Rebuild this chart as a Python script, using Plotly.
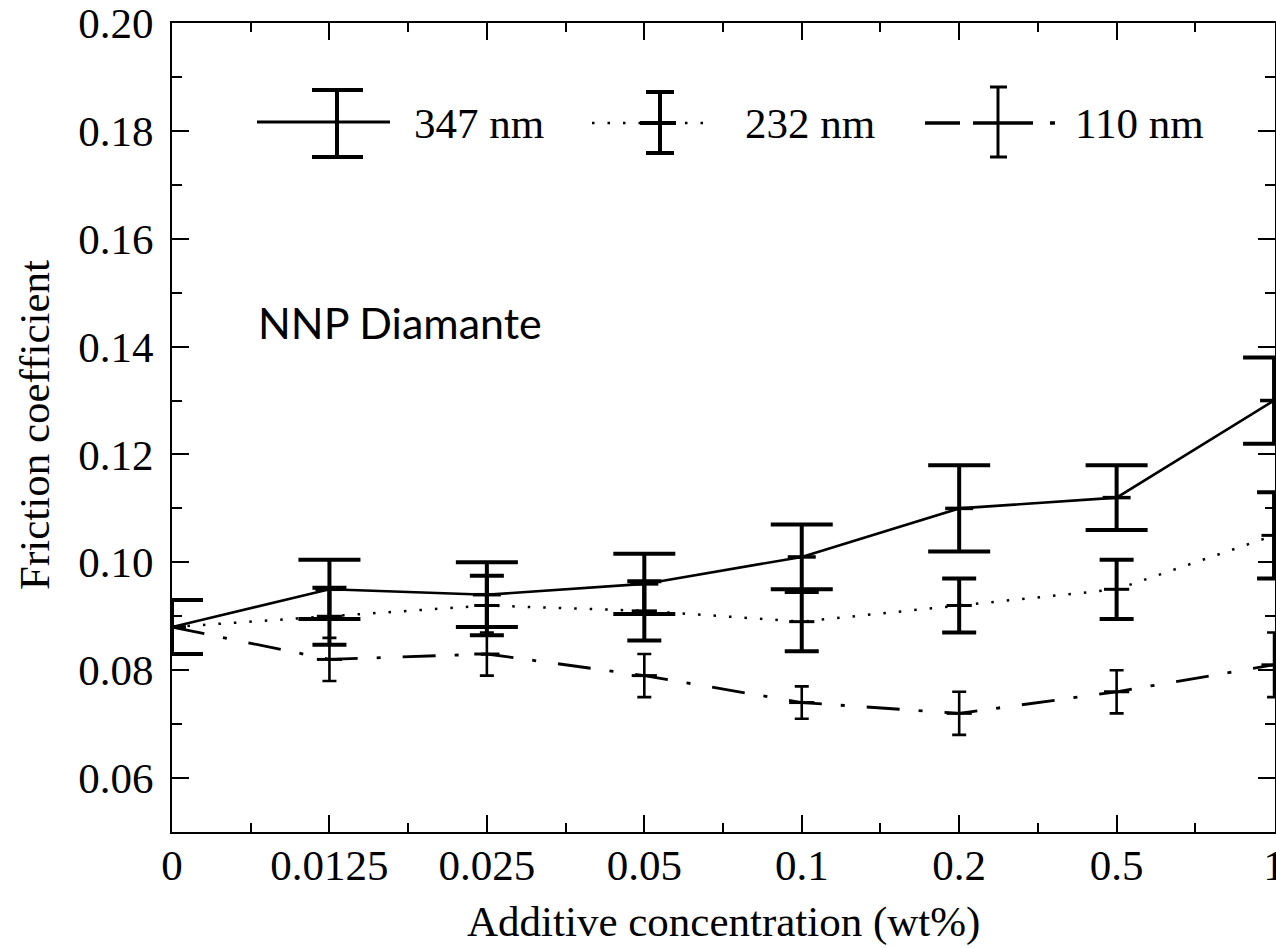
import plotly.graph_objects as go

# ---------------- data ----------------
conc_labels = ["0", "0.0125", "0.025", "0.05", "0.1", "0.2", "0.5", "1"]
conc_pos = [0, 1, 2, 3, 4, 5, 6, 7]

f347 = [0.088, 0.095, 0.094, 0.096, 0.101, 0.110, 0.112, 0.130]
e347 = [0.005, 0.0055, 0.006, 0.0056, 0.006, 0.008, 0.006, 0.008]

f232 = [0.088, 0.090, 0.092, 0.091, 0.089, 0.092, 0.095, 0.105]
e232 = [0.005, 0.0053, 0.0055, 0.0055, 0.0055, 0.005, 0.0055, 0.008]

f110 = [0.088, 0.082, 0.083, 0.079, 0.074, 0.072, 0.076, 0.081]
e110 = [0.005, 0.004, 0.004, 0.004, 0.003, 0.004, 0.004, 0.006]

series_names = ["347 nm", "232 nm", "110 nm"]

# ---------------- layout constants ----------------
W, H = 1276, 948
L, R, T, B = 172, 1, 23, 116
PW = W - L - R
PH = H - T - B
SERIF = "Liberation Serif, Times New Roman, serif"
FS = 43


def px_x(p):
    return (p - L) / PW


def px_y(p):
    return (H - B - p) / PH


fig = go.Figure()

fig.add_trace(go.Scatter(
    x=conc_pos, y=f110, mode="lines+markers", name=series_names[2],
    line=dict(color="black", width=2.8, dash="33px,19px,4px,22px"),
    marker=dict(symbol="line-ew", size=18, line=dict(color="black", width=3)),
    error_y=dict(type="data", array=e110, color="black", thickness=2.6, width=7),
))
fig.add_trace(go.Scatter(
    x=conc_pos, y=f232, mode="lines+markers", name=series_names[1],
    line=dict(color="black", width=2.5, dash="2.5px,13px"),
    marker=dict(symbol="line-ew", size=18, line=dict(color="black", width=3)),
    error_y=dict(type="data", array=e232, color="black", thickness=4, width=17),
))
fig.add_trace(go.Scatter(
    x=conc_pos, y=f347, mode="lines+markers", name=series_names[0],
    line=dict(color="black", width=2.6),
    marker=dict(symbol="line-ew", size=20, line=dict(color="black", width=3.5)),
    error_y=dict(type="data", array=e347, color="black", thickness=4, width=31),
))

# ---------------- custom legend (layout decorations) ----------------
shapes = []


def seg(x0, y0, x1, y1, width, dash="solid"):
    shapes.append(dict(type="line", xref="paper", yref="paper",
                       x0=px_x(x0), y0=px_y(y0), x1=px_x(x1), y1=px_y(y1),
                       line=dict(color="black", width=width, dash=dash)))


# 347 nm
seg(257, 122, 390, 122, 3)
seg(337, 90, 337, 157, 4)
seg(312, 90, 363, 90, 4)
seg(312, 157, 363, 157, 4)
# 232 nm
seg(592, 123, 715, 123, 2.5, "2.5px,13px")
seg(640, 123, 676, 123, 4)
seg(660, 92, 660, 153, 4)
seg(646, 92, 674, 92, 4)
seg(646, 153, 674, 153, 4)
# 110 nm
seg(925, 123, 960, 123, 3.5)
seg(973, 123, 1033, 123, 3.5)
seg(1050, 123, 1055, 123, 3.5)
seg(998, 87, 998, 157, 3)
seg(990, 87, 1007, 87, 3)
seg(990, 157, 1007, 157, 3)

annotations = [
    dict(text=series_names[0], x=px_x(412), y=px_y(124), xref="paper", yref="paper",
         xanchor="left", yanchor="middle", showarrow=False,
         font=dict(family=SERIF, size=43, color="black")),
    dict(text=series_names[1], x=px_x(743), y=px_y(124), xref="paper", yref="paper",
         xanchor="left", yanchor="middle", showarrow=False,
         font=dict(family=SERIF, size=43, color="black")),
    dict(text=series_names[2], x=px_x(1073), y=px_y(124), xref="paper", yref="paper",
         xanchor="left", yanchor="middle", showarrow=False,
         font=dict(family=SERIF, size=43, color="black")),
    dict(text="NNP Diamante", x=px_x(256), y=px_y(322), xref="paper", yref="paper",
         xanchor="left", yanchor="middle", showarrow=False,
         font=dict(family="Lato, Open Sans, sans-serif", size=43, color="black")),
    dict(text="Additive concentration (wt%)", x=px_x(723), y=px_y(922),
         xref="paper", yref="paper", xanchor="center", yanchor="middle",
         showarrow=False, font=dict(family=SERIF, size=43, color="black")),
    dict(text="Friction coefficient", x=px_x(34), y=px_y(425),
         xref="paper", yref="paper", xanchor="center", yanchor="middle",
         textangle=-90, showarrow=False,
         font=dict(family=SERIF, size=43, color="black")),
]

fig.update_layout(
    width=W, height=H,
    margin=dict(l=L, r=R, t=T, b=B, pad=0, autoexpand=False),
    plot_bgcolor="white", paper_bgcolor="white",
    showlegend=False,
    shapes=shapes,
    annotations=annotations,
)

fig.update_xaxes(
    range=[0, 7.006],
    automargin=False,
    tickmode="array", tickvals=conc_pos, ticktext=conc_labels,
    ticks="inside", ticklen=17, tickwidth=2, tickcolor="black",
    showline=True, linewidth=2, linecolor="black", mirror="ticks",
    showgrid=False, zeroline=False,
    minor=dict(ticks="inside", ticklen=9, tickwidth=2, tickcolor="black",
               dtick=0.5, tick0=0, showgrid=False),
    tickfont=dict(family=SERIF, size=FS, color="black"),
    ticklabelstandoff=-6,
    ticklabeloverflow="allow",
)
fig.update_yaxes(
    range=[0.05, 0.20],
    automargin=False,
    tickmode="linear", tick0=0, dtick=0.02, tickformat=".2f",
    ticks="inside", ticklen=17, tickwidth=2, tickcolor="black",
    showline=True, linewidth=2, linecolor="black", mirror="ticks",
    showgrid=False, zeroline=False,
    minor=dict(ticks="inside", ticklen=10, tickwidth=2, tickcolor="black",
               dtick=0.01, tick0=0, showgrid=False),
    tickfont=dict(family=SERIF, size=FS, color="black"),
    ticklabelstandoff=8,
    ticklabeloverflow="allow",
)

fig.write_html("out.html")
